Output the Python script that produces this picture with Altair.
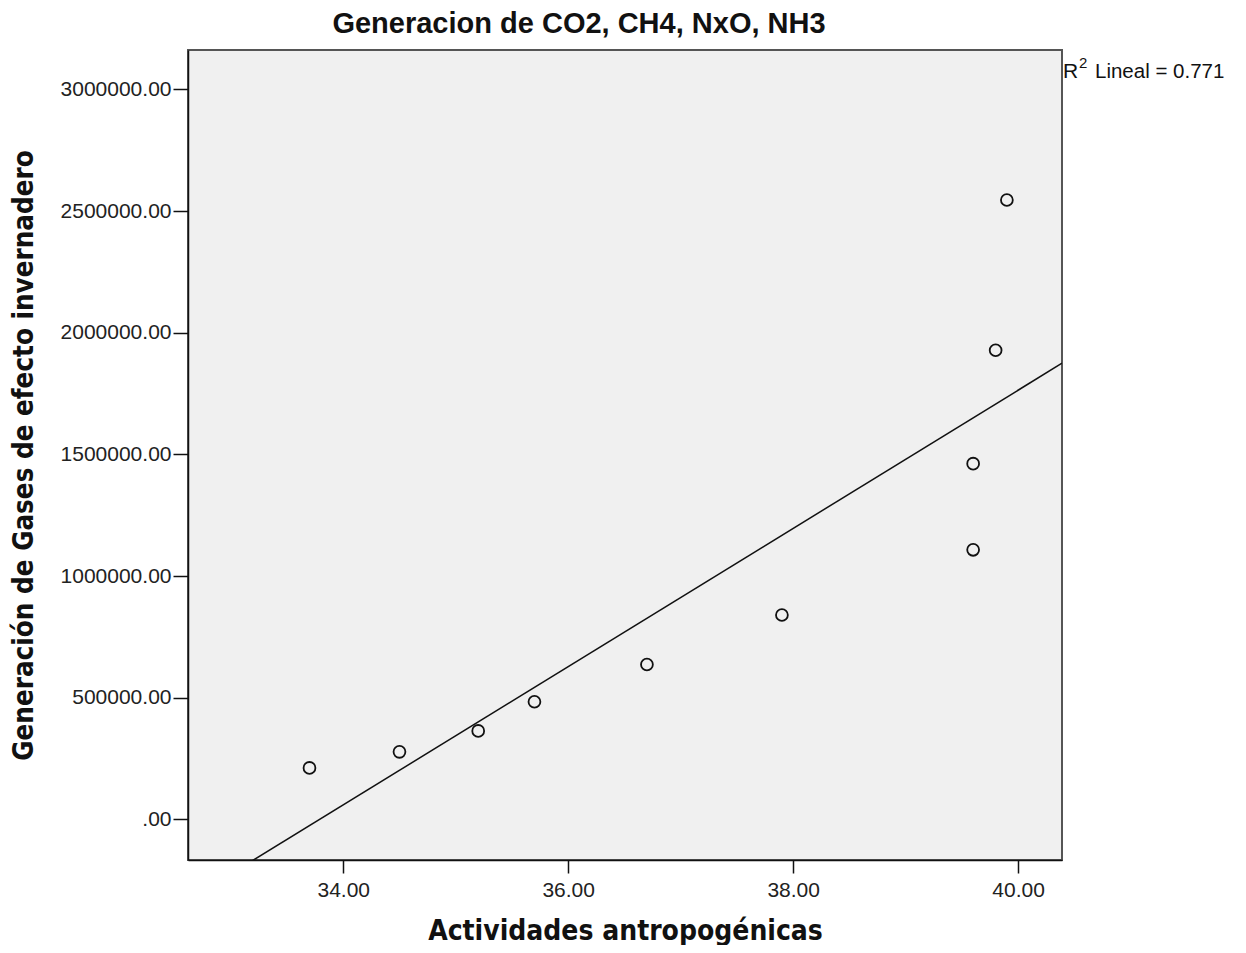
import altair as alt
import pandas as pd

# Data
actividades = [33.7, 34.5, 35.2, 35.7, 36.7, 37.9, 39.6, 39.6, 39.8, 39.9]
gases = [212000, 278000, 364000, 484000, 637000, 840000, 1108000, 1462000, 1928000, 2545000]

x_ticks = [34, 36, 38, 40]
y_ticks = [0, 500000, 1000000, 1500000, 2000000, 2500000, 3000000]
x_domain = [32.62, 40.39]
y_domain = [-166400, 3161500]

titulo = "Generacion de CO2, CH4, NxO, NH3"
x_titulo = "Actividades antropogénicas"
y_titulo = "Generación de Gases de efecto invernadero"
r2_parts = ["R", "2", "Lineal = 0.771"]

df = pd.DataFrame({"x": actividades, "y": gases})

W, H = 874, 810

xs = alt.Scale(domain=x_domain, nice=False, zero=False)
ys = alt.Scale(domain=y_domain, nice=False, zero=False)

xaxis = alt.Axis(values=x_ticks, format=".2f", title=x_titulo, grid=False,
                 tickSize=13, labelPadding=6, titlePadding=17,
                 labelFont="Liberation Sans", labelFontSize=21, labelColor="#222",
                 titleFont="DejaVu Sans Condensed", titleFontSize=28, titleFontWeight="bold",
                 titleColor="#111")
yaxis = alt.Axis(values=y_ticks, title=y_titulo, grid=False,
                 labelExpr="datum.value == 0 ? '.00' : format(datum.value, '.2f')",
                 tickSize=15, labelPadding=2, titlePadding=22,
                 labelFont="Liberation Sans", labelFontSize=21, labelColor="#222",
                 titleFont="DejaVu Sans Condensed", titleFontSize=27.5, titleFontWeight="bold",
                 titleColor="#111")

base = alt.Chart(df)

points = base.mark_point(shape="circle", filled=False, size=140, strokeWidth=1.8,
                         color="#111", opacity=1).encode(
    x=alt.X("x:Q", scale=xs, axis=xaxis),
    y=alt.Y("y:Q", scale=ys, axis=yaxis),
)

line = base.transform_regression("x", "y", extent=x_domain).mark_line(
    color="#111", strokeWidth=1.5, clip=True).encode(
    x=alt.X("x:Q", scale=xs),
    y=alt.Y("y:Q", scale=ys),
)

def label(txt, x, y, size, weight="normal", align="left"):
    return alt.Chart(pd.DataFrame({"t": [txt]})).mark_text(
        align=align, baseline="alphabetic", font="Liberation Sans", fontSize=size,
        fontWeight=weight, color="#111"
    ).encode(x=alt.value(x), y=alt.value(y), text="t:N")

ttl = label(titulo, 391, -17, 29, weight="bold", align="center")
ann = label(r2_parts[0], W + 1, 28, 21)
ann2 = label(r2_parts[1], W + 17, 18, 15)
ann3 = label(r2_parts[2], W + 33, 28, 20.5)

chart = alt.layer(line, points, ttl, ann, ann2, ann3).properties(
    width=W, height=H,
    autosize=alt.AutoSizeParams(type="none"),
    padding={"left": 180, "top": 42, "right": 170, "bottom": 85},
    background="white",
).configure_view(
    fill="#f0f0f0", stroke="#555", strokeWidth=2
).configure_axis(
    domainColor="#111", domainWidth=1.5, tickColor="#111", tickWidth=1.5,
)

chart.save("out.html", embed_options={"renderer": "svg", "actions": False})
